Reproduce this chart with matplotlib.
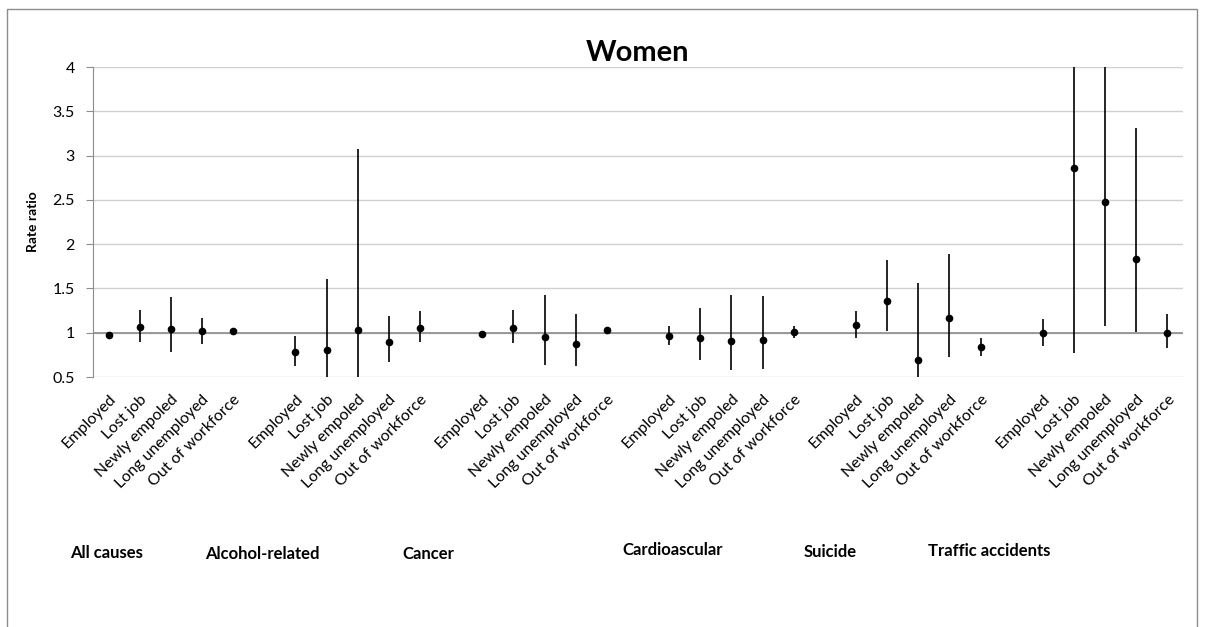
import numpy as np
import matplotlib.pyplot as plt
from matplotlib.patches import Rectangle

plt.rcParams['font.family'] = ['Lato', 'DejaVu Sans']

status = ['Employed', 'Lost job', 'Newly empoled', 'Long unemployed', 'Out of workforce']
causes = ['All causes', 'Alcohol-related', 'Cancer', 'Cardioascular', 'Suicide', 'Traffic accidents']

# rate ratio and 95% CI per cause, in the order of `status`
rr = {
    'All causes':        [0.98, 1.065, 1.04, 1.015, 1.02],
    'Alcohol-related':   [0.78, 0.80, 1.03, 0.895, 1.057],
    'Cancer':            [0.99, 1.05, 0.955, 0.87, 1.035],
    'Cardioascular':     [0.963, 0.94, 0.906, 0.917, 1.008],
    'Suicide':           [1.087, 1.36, 0.695, 1.17, 0.838],
    'Traffic accidents': [0.996, 2.863, 2.478, 1.834, 0.996],
}
lo = {
    'All causes':        [0.96, 0.895, 0.78, 0.87, 1.00],
    'Alcohol-related':   [0.62, 0.39, 0.34, 0.67, 0.90],
    'Cancer':            [0.97, 0.88, 0.64, 0.62, 1.02],
    'Cardioascular':     [0.864, 0.687, 0.574, 0.59, 0.935],
    'Suicide':           [0.94, 1.015, 0.31, 0.725, 0.736],
    'Traffic accidents': [0.85, 0.77, 1.071, 1.01, 0.822],
}
hi = {
    'All causes':        [1.00, 1.26, 1.40, 1.17, 1.04],
    'Alcohol-related':   [0.966, 1.61, 3.07, 1.19, 1.24],
    'Cancer':            [1.02, 1.26, 1.43, 1.215, 1.05],
    'Cardioascular':     [1.076, 1.28, 1.426, 1.42, 1.076],
    'Suicide':           [1.25, 1.82, 1.566, 1.886, 0.943],
    'Traffic accidents': [1.158, 10.6, 5.8, 3.316, 1.207],
}

fig = plt.figure(figsize=(12.05, 6.27), dpi=100)
ax = fig.add_axes([0.0772, 0.3987, 0.9045, 0.4944])

xs, ys, errs_lo, errs_hi = [], [], [], []
for g, c in enumerate(causes):
    for j, s in enumerate(status):
        xs.append(g * 6 + j)
        ys.append(rr[c][j])
        errs_lo.append(rr[c][j] - lo[c][j])
        errs_hi.append(hi[c][j] - rr[c][j])
ax.errorbar(xs, ys, yerr=[errs_lo, errs_hi], fmt='o', color='black', ms=4.5,
            elinewidth=1.2, capsize=0, zorder=3)

ax.set_xlim(-0.5, 34.5)
ax.set_ylim(0.5, 4)
ax.set_yticks(np.arange(0.5, 4.01, 0.5))
ax.set_yticklabels(['0.5', '1', '1.5', '2', '2.5', '3', '3.5', '4'], fontsize=11.5)
ax.grid(axis='y', color='#D0D0D0', lw=1)
ax.set_axisbelow(True)
ax.axhline(1, color='#8C8C8C', lw=1.2, zorder=1)
for sp in ['top', 'right', 'bottom']:
    ax.spines[sp].set_visible(False)
ax.spines['left'].set_color('#8C8C8C')
ax.tick_params(axis='y', length=5, color='#8C8C8C', pad=8)

ax.set_xticks(xs)
ax.set_xticklabels([s for c in causes for s in status], rotation=45, ha='right',
                   rotation_mode='anchor', fontsize=11.5)
ax.tick_params(axis='x', length=0, pad=11)
for t in ax.get_xticklabels():
    t.set_x(t.get_position()[0])

ax.set_title('Women', fontsize=21, fontweight='bold', pad=4)
ax.set_ylabel('Rate ratio', fontsize=10, fontweight='bold', labelpad=10)

# group labels under the tick labels
gx = [70, 205, 402, 622, 804, 928]
gy = [553, 554, 554, 550, 552, 551]
for c, x, y in zip(causes, gx, gy):
    fig.text(x / 1205, 1 - y / 627, c, fontsize=12, fontweight='bold', va='center', ha='left')

# chart area border
fig.add_artist(Rectangle((7 / 1205, -0.1), 1190 / 1205, 1.1 - 9 / 627,
                         transform=fig.transFigure, fill=False, ec='#8C8C8C', lw=1))

fig.savefig('out.png', dpi=100)
